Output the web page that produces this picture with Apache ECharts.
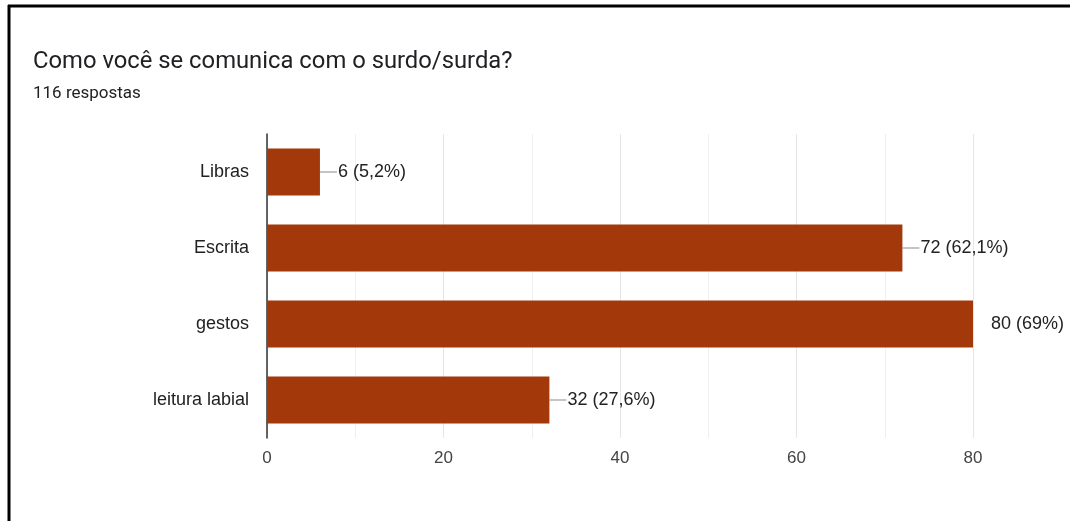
<!DOCTYPE html>
<html>
<head>
<meta charset="utf-8">
<script src="https://cdn.jsdelivr.net/npm/echarts@6/dist/echarts.min.js"></script>
<style>
html,body{margin:0;padding:0;background:#fff;}
#c{width:1070px;height:521px;}
</style>
</head>
<body>
<div id="c"></div>
<script>
const titleText = 'Como você se comunica com o surdo/surda?';
const subtitleText = '116 respostas';
const categories = ['Libras', 'Escrita', 'gestos', 'leitura labial'];
const values = [6, 72, 80, 32];
const percents = ['5,2%', '62,1%', '69%', '27,6%'];
const xTicks = [0, 20, 40, 60, 80];

const chart = echarts.init(document.getElementById('c'));
const barColor = '#a3390b';

const data = values.map((v, i) => {
  const item = { value: v };
  if (v === 80) {
    item.label = {
      distance: 17,
      formatter: () => '{t|' + v + ' (' + percents[i] + ')}'
    };
  }
  return item;
});

chart.setOption({
  backgroundColor: '#fff',
  animation: false,
  title: [
    { text: titleText, left: 28, top: 45,
      textStyle: { fontFamily: 'Roboto', fontSize: 23.8, fontWeight: 'normal', color: '#202124' } },
    { text: subtitleText, left: 28, top: 80,
      textStyle: { fontFamily: 'Roboto', fontSize: 17, fontWeight: 'normal', color: '#202124' } }
  ],
  graphic: [
    { type: 'line', shape: { x1: 8, y1: 6, x2: 1070, y2: 6 }, style: { stroke: '#000', lineWidth: 3 } },
    { type: 'line', shape: { x1: 9, y1: 5, x2: 9, y2: 521 }, style: { stroke: '#000', lineWidth: 3 } }
  ],
  grid: { left: 267, right: 97, top: 134, bottom: 83, containLabel: false },
  xAxis: {
    type: 'value', min: 0, max: 80, interval: 20,
    axisLine: { show: false },
    axisTick: { show: false },
    axisLabel: { color: '#444', fontFamily: 'Liberation Sans', fontSize: 17, margin: 12,
      formatter: v => xTicks.includes(v) ? String(v) : '' },
    splitLine: { show: true, lineStyle: { color: '#e6e6e6', width: 1 } },
    minorTick: { show: false, splitNumber: 2 },
    minorSplitLine: { show: true, lineStyle: { color: '#efefef', width: 1 } }
  },
  yAxis: {
    type: 'category', data: categories, inverse: true,
    axisLine: { show: true, lineStyle: { color: '#333', width: 1.5 } },
    axisTick: { show: false },
    axisLabel: { color: '#222', fontFamily: 'Liberation Sans', fontSize: 18, margin: 18 }
  },
  series: [{
    type: 'bar',
    data: data,
    barCategoryGap: '38%',
    itemStyle: { color: barColor },
    label: {
      show: true, position: 'right', distance: 0,
      formatter: p => '{l|}{t|' + p.value + ' (' + percents[p.dataIndex] + ')}',
      rich: {
        l: { width: 17, height: 1, backgroundColor: '#888', verticalAlign: 'middle' },
        t: { color: '#222', fontFamily: 'Liberation Sans', fontSize: 18, padding: [0, 0, 0, 1], verticalAlign: 'middle' }
      }
    }
  }]
});
</script>
</body>
</html>
